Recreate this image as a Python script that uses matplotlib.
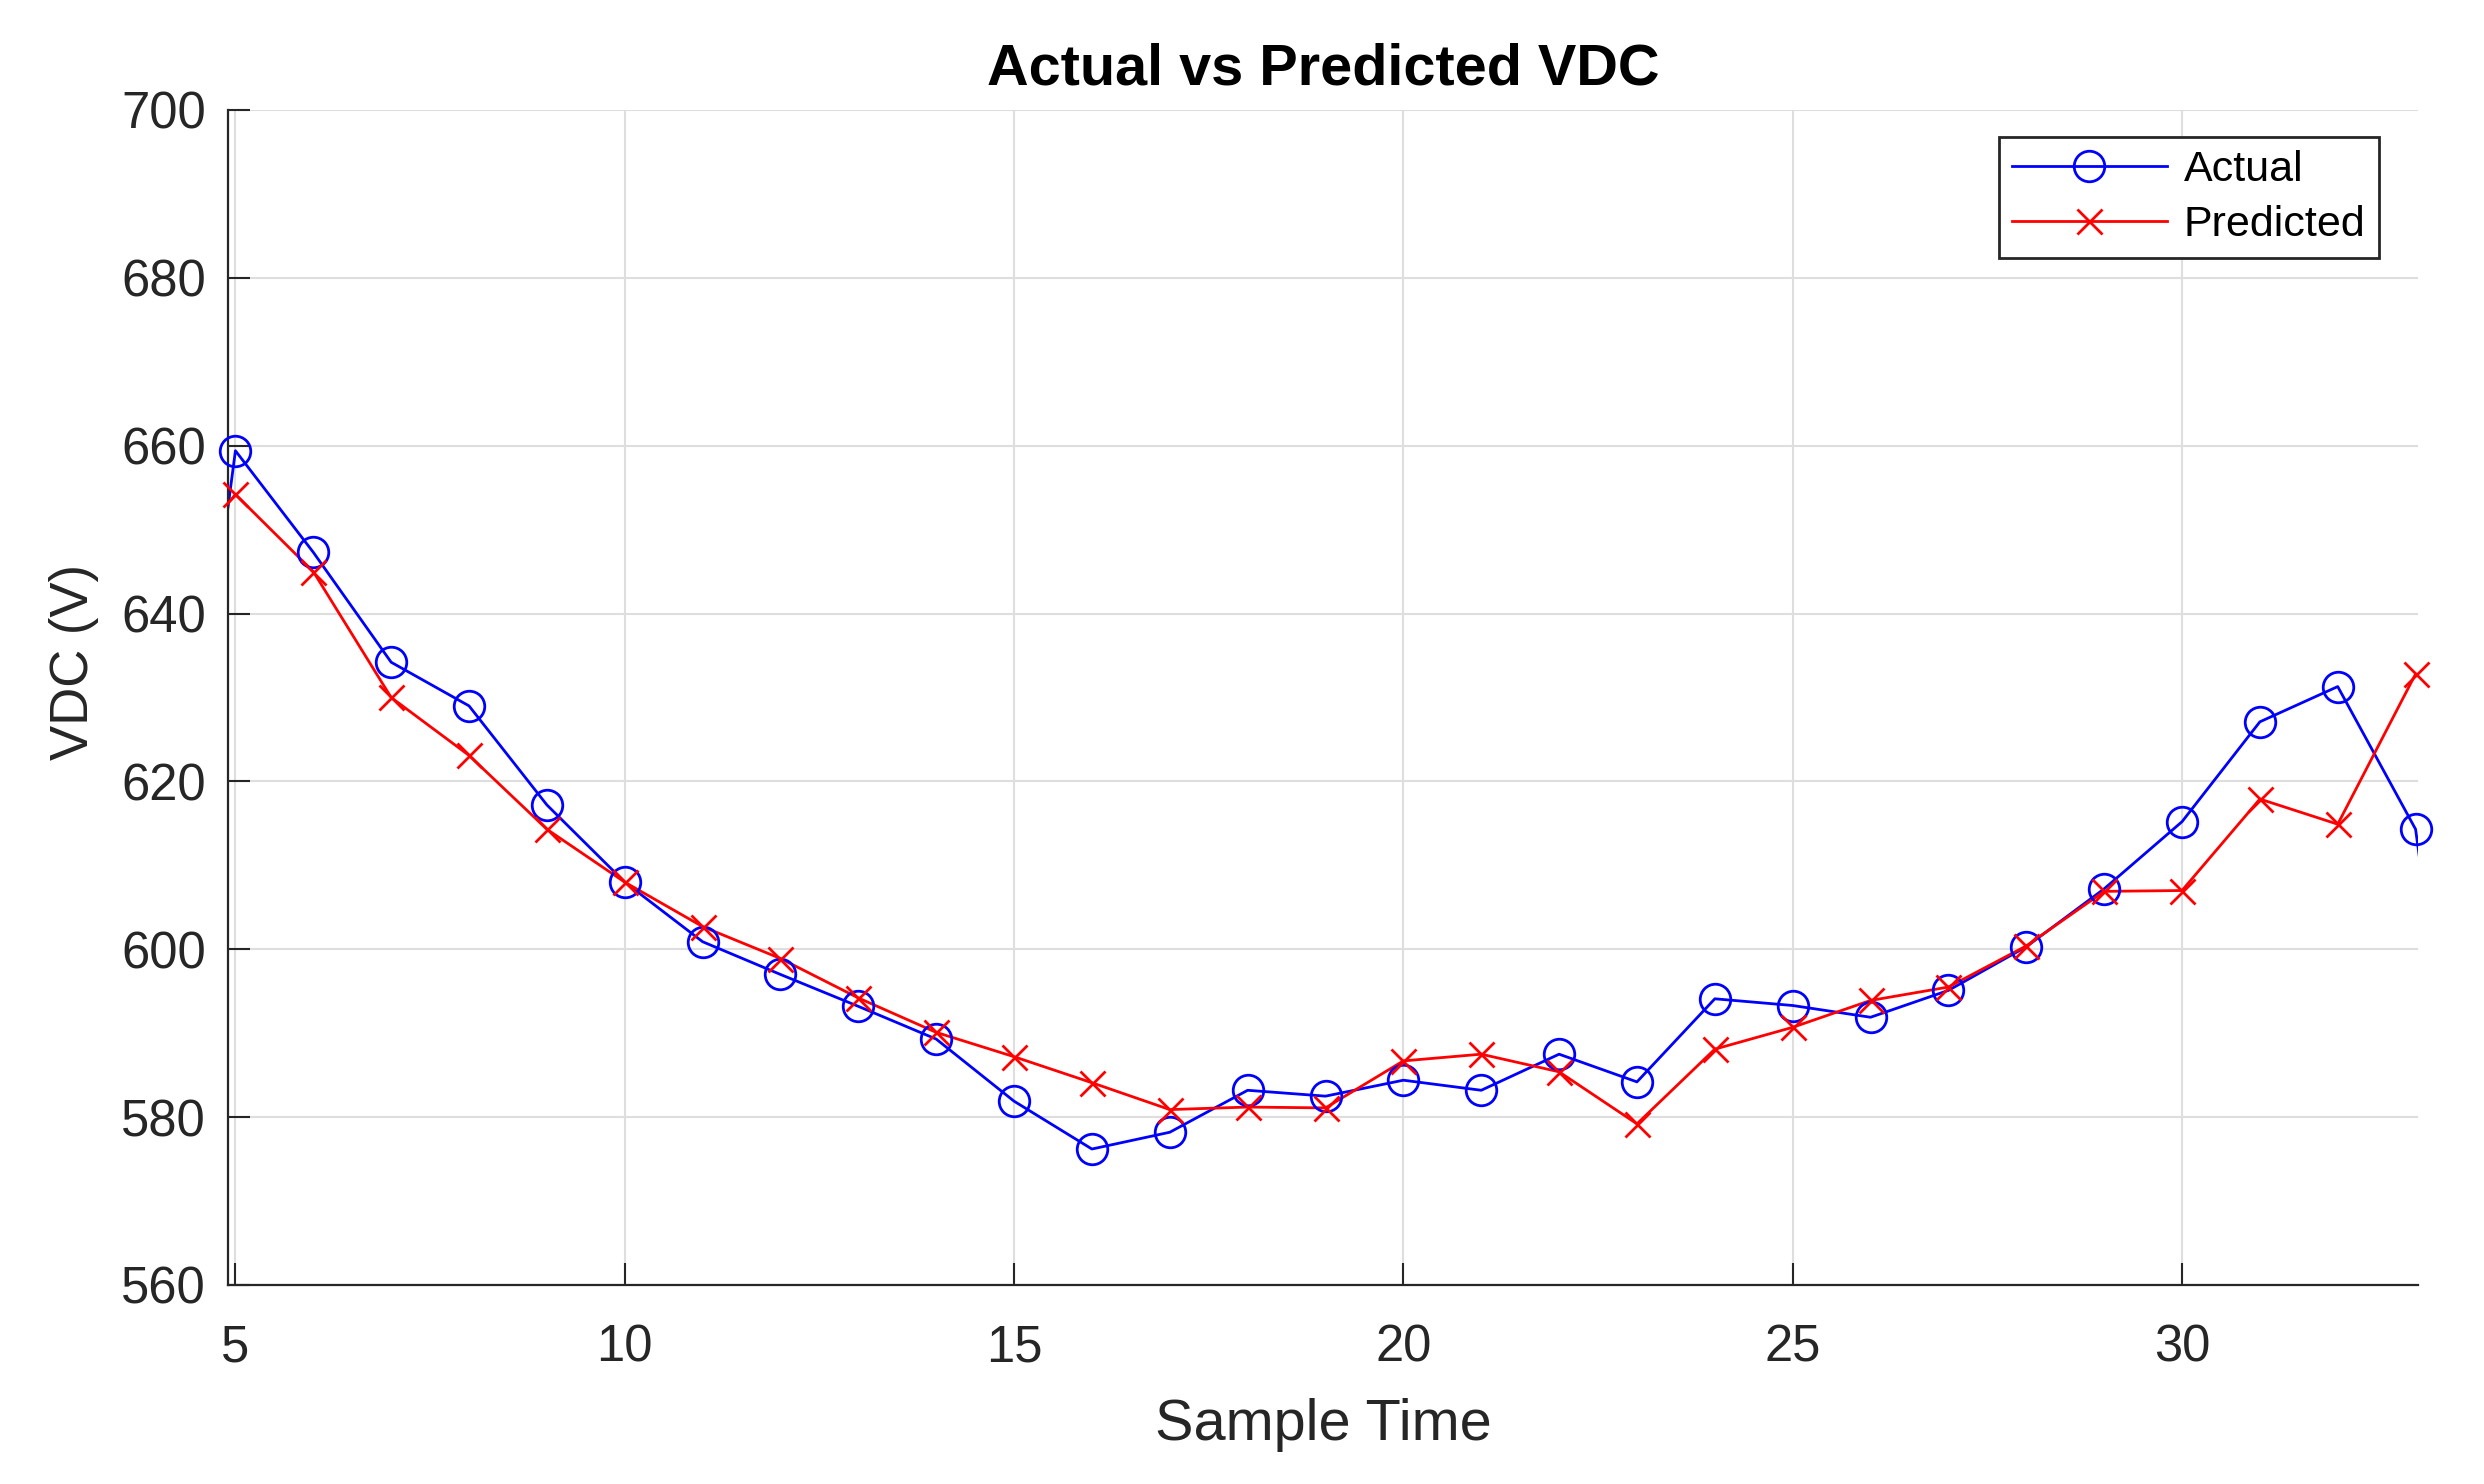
import numpy as np
import matplotlib
matplotlib.use("Agg")
import matplotlib.pyplot as plt
from matplotlib.lines import Line2D

# sample index and values
sample_actual = [4, 5, 6, 7, 8, 9, 10, 11, 12, 13, 14, 15, 16, 17, 18, 19,
                 20, 21, 22, 23, 24, 25, 26, 27, 28, 29, 30, 31, 32, 33, 34]
vdc_actual = [589.0, 659.4, 647.3, 634.2, 629.0, 617.2, 608.0, 600.9, 597.0,
              593.2, 589.3, 581.9, 576.2, 578.2, 583.2, 582.5, 584.4, 583.2,
              587.5, 584.2, 594.1, 593.3, 591.9, 595.1, 600.3, 607.2, 615.2,
              627.1, 631.3, 614.3, 546.0]

sample_pred = [4, 5, 6, 7, 8, 9, 10, 11, 12, 13, 14, 15, 16, 17, 18, 19,
               20, 21, 22, 23, 24, 25, 26, 27, 28, 29, 30, 31, 32, 33]
vdc_pred = [643.0, 654.2, 645.0, 630.0, 623.1, 614.3, 608.0, 602.7, 598.9,
            594.2, 590.1, 587.2, 584.1, 580.9, 581.2, 581.1, 586.7, 587.5,
            585.4, 579.2, 588.1, 590.7, 593.9, 595.5, 600.4, 606.9, 607.0,
            617.9, 614.9, 632.8]

x_ticks = [5, 10, 15, 20, 25, 30]
y_ticks = [560, 580, 600, 620, 640, 660, 680, 700]
x_lim = (4.905, 33.03)
y_lim = (560, 700)

plt.rcParams['font.family'] = ['Liberation Sans', 'DejaVu Sans']
dark = '#262626'

fig = plt.figure(figsize=(24.84, 14.84), dpi=100)
ax = fig.add_axes([0.0918, 0.1341, 0.8816, 0.7918])

xa = np.array(sample_actual)
ya = np.array(vdc_actual)
xp = np.array(sample_pred)
yp = np.array(vdc_pred)

# lines are clipped to the axes, markers are not (MATLAB style)
ax.plot(xa, ya, '-', color='blue', lw=2.0)
ax.plot(xp, yp, '-', color='red', lw=2.0)
ina = (xa >= 5) & (xa <= 33)
inp = (xp >= 5) & (xp <= 33)
ax.plot(xa[ina], ya[ina], 'o', ms=22, mfc='none', mec='blue', mew=2.0,
        clip_on=False, zorder=3)
ax.plot(xp[inp], yp[inp], 'x', ms=18, mec='red', mew=2.0,
        clip_on=False, zorder=3)

ax.set_xlim(*x_lim)
ax.set_ylim(*y_lim)
ax.set_xticks(x_ticks)
ax.set_yticks(y_ticks)

ax.grid(True, color='#dedede', lw=1.5)
ax.set_axisbelow(True)
for s in ['top', 'right']:
    ax.spines[s].set_visible(False)
for s in ['left', 'bottom']:
    ax.spines[s].set_color(dark)
    ax.spines[s].set_linewidth(1.6)

ax.tick_params(axis='both', direction='in', length=15.5, width=1.5,
               colors=dark, labelsize=36.5)
ax.tick_params(axis='y', pad=16)
ax.tick_params(axis='x', pad=28)

ax.set_title('Actual vs Predicted VDC', fontsize=41.5, fontweight='bold',
             color='black', pad=18)
ax.set_xlabel('Sample Time', fontsize=41.5, color=dark, labelpad=18)
ax.set_ylabel('VDC (V)', fontsize=38, color=dark)
ax.yaxis.set_label_coords(-0.059, 0.530)

handles = [
    Line2D([], [], color='blue', lw=2.0, marker='o', ms=22, mfc='none',
           mec='blue', mew=2.0),
    Line2D([], [], color='red', lw=2.0, marker='x', ms=18, mec='red',
           mew=2.0),
]
leg = ax.legend(handles, ['Actual', 'Predicted'], loc='upper right',
                bbox_to_anchor=(0.982, 0.977), fontsize=31, frameon=True,
                fancybox=False, framealpha=1, edgecolor=dark,
                handlelength=3.6, handletextpad=0.4, labelspacing=0.35,
                borderpad=0.3, borderaxespad=0)
leg.get_frame().set_linewidth(2.0)

fig.savefig('out.png', dpi=100)
